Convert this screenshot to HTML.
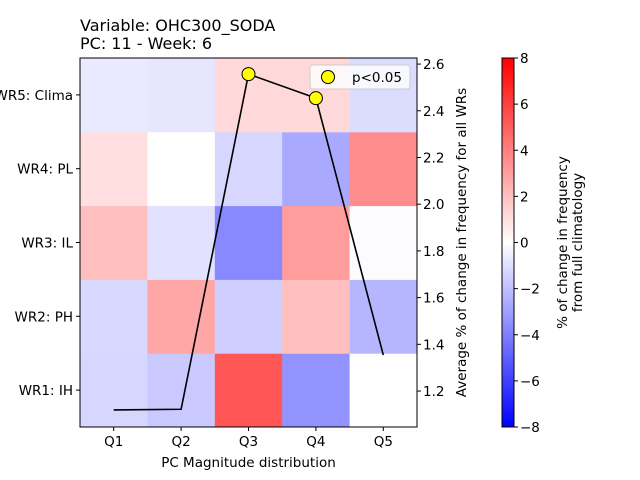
<!DOCTYPE html>
<html><head><meta charset="utf-8"><style>body{margin:0;background:#fff}svg{display:block;font-family:"DejaVu Sans","Liberation Sans",sans-serif}</style></head>
<body>
<svg id="c" width="640" height="480" viewBox="0 0 640 480">
<defs><linearGradient id="bwr" x1="0" y1="1" x2="0" y2="0"><stop offset="0" stop-color="#0000ff"/><stop offset="0.5" stop-color="#ffffff"/><stop offset="1" stop-color="#ff0000"/></linearGradient></defs>
<text x="80" y="31" font-size="16">Variable: OHC300_SODA</text>
<text x="80" y="49" font-size="16">PC: 11 - Week: 6</text>
<g id="heat"></g><g id="line"></g><g id="axes"></g>
</svg>
<script>
const categories=["Q1","Q2","Q3","Q4","Q5"];
const regimes=["WR1: IH","WR2: PH","WR3: IL","WR4: PL","WR5: Clima"];
const heatWR1=[-1.3,-1.7,5.3,-3.4,0];
const heatWR2=[-1.2,2.8,-1.5,2.0,-2.3];
const heatWR3=[2.0,-0.9,-3.7,3.1,-0.1];
const heatWR4=[1.0,0,-1.3,-2.7,3.6];
const heatWR5=[-0.7,-0.8,1.2,1.2,-1.1];
const lineValues=[1.119,1.122,2.557,2.454,1.354];
const significant=[false,false,true,true,false];
const rightTicks=[1.2,1.4,1.6,1.8,2.0,2.2,2.4,2.6];
const cbarTicks=[-8,-6,-4,-2,0,2,4,6,8];
const L=80,R=417,T=58,B=427,cw=(R-L)/5,rh=(B-T)/5;
const yMin=1.046,yMax=2.626;
const FS=13.5;
const xs=i=>L+cw*(i+0.5);
const yr=v=>B-(v-yMin)/(yMax-yMin)*(B-T);
const NS="http://www.w3.org/2000/svg";
function mk(p,t,a){const e=document.createElementNS(NS,t);for(const k in a)e.setAttribute(k,a[k]);p.appendChild(e);return e;}
function col(v){v=Math.max(-8,Math.min(8,v));let r,g,b;if(v<0){r=g=Math.round(255*(1+v/8));b=255;}else{r=255;g=b=Math.round(255*(1-v/8));}return `rgb(${r},${g},${b})`;}
const heat=document.getElementById('heat'),line=document.getElementById('line'),ax=document.getElementById('axes');
const rows=[heatWR1,heatWR2,heatWR3,heatWR4,heatWR5];
rows.forEach((row,r)=>row.forEach((v,i)=>{
 const e=mk(heat,'rect',{x:L+cw*i,y:B-rh*(r+1),width:cw+0.5,height:rh+0.5,fill:col(v)});
 
 
}));
const pl=mk(line,'polyline',{points:lineValues.map((v,i)=>xs(i)+','+yr(v)).join(' '),fill:'none',stroke:'#000','stroke-width':1.6});


lineValues.forEach((v,i)=>{if(significant[i]){const c=mk(line,'circle',{cx:xs(i),cy:yr(v),r:6.5,fill:'#ffff00',stroke:'#000','stroke-width':1});

}});
const fr=mk(ax,'rect',{x:L,y:T,width:R-L,height:B-T,fill:'none',stroke:'#000','stroke-width':1});


categories.forEach((c,i)=>{mk(ax,'line',{x1:xs(i),x2:xs(i),y1:B,y2:B+4,stroke:'#000'});
const t=mk(ax,'text',{x:xs(i),y:B+19,'font-size':FS,'text-anchor':'middle'});t.textContent=c;

});
regimes.forEach((c,r)=>{const y=B-rh*(r+0.5);mk(ax,'line',{x1:L-4,x2:L,y1:y,y2:y,stroke:'#000'});
const t=mk(ax,'text',{x:L-7,y:y+5,'font-size':FS,'text-anchor':'end'});t.textContent=c;

});
rightTicks.forEach(v=>{const y=yr(v);mk(ax,'line',{x1:R,x2:R+4,y1:y,y2:y,stroke:'#000'});
const t=mk(ax,'text',{x:R+6,y:y+5,'font-size':FS});t.textContent=v.toFixed(1);

});
const xl=mk(ax,'text',{x:(L+R)/2,y:467,'font-size':FS,'text-anchor':'middle'});xl.textContent='PC Magnitude distribution';


const yl=mk(ax,'text',{x:0,y:0,'font-size':FS,'text-anchor':'middle',transform:`translate(466,${(T+B)/2}) rotate(-90)`});yl.textContent='Average % of change in frequency for all WRs';


const lg=mk(ax,'g',{});


mk(lg,'rect',{x:310,y:65,width:100,height:24,rx:3,fill:'#fff','fill-opacity':0.8,stroke:'#ccc'});
mk(lg,'circle',{cx:328,cy:77,r:6.5,fill:'#ffff00',stroke:'#000'});
const lt=mk(lg,'text',{x:352,y:82,'font-size':FS});lt.textContent='p<0.05';
const cx=502,cwid=12;
const cb=mk(ax,'rect',{x:cx,y:T,width:cwid,height:B-T,fill:'url(#bwr)',stroke:'#000'});


cbarTicks.forEach(v=>{const y=B-(v+8)/16*(B-T);mk(ax,'line',{x1:cx+cwid,x2:cx+cwid+4,y1:y,y2:y,stroke:'#000'});
const t=mk(ax,'text',{x:cx+cwid+6,y:y+5,'font-size':FS});t.textContent=(v<0?'\u2212'+(-v):v);

});
const c1=mk(ax,'text',{x:0,y:0,'font-size':FS,'text-anchor':'middle',transform:`translate(567,${(T+B)/2}) rotate(-90)`});c1.textContent='% of change in frequency';


const c2=mk(ax,'text',{x:0,y:0,'font-size':FS,'text-anchor':'middle',transform:`translate(582,${(T+B)/2}) rotate(-90)`});c2.textContent='from full climatology';


</script>
</body></html>
